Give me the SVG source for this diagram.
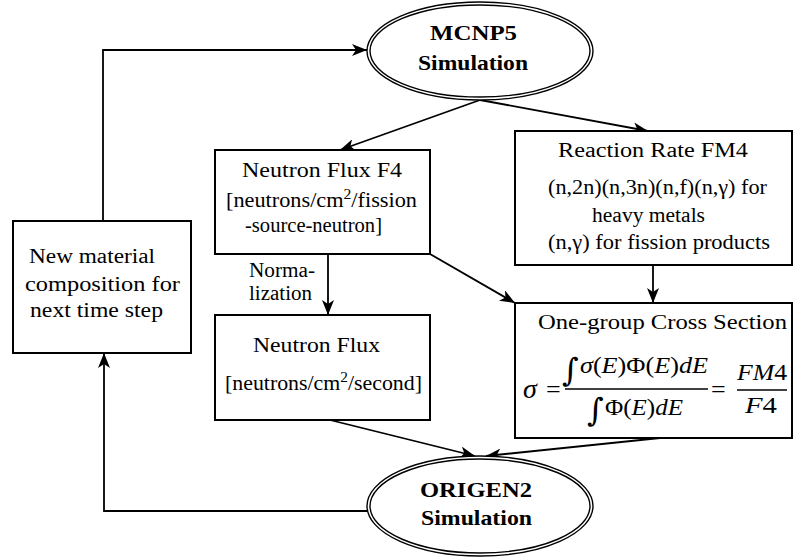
<svg xmlns="http://www.w3.org/2000/svg" width="794" height="560" viewBox="0 0 794 560">
<defs>
<marker id="arr" markerUnits="userSpaceOnUse" markerWidth="16" markerHeight="12" refX="15" refY="6" orient="auto">
<path d="M0,0 L15,6 L0,12 L4,6 Z" fill="#000"/>
</marker>
<style>
.box{fill:#fff;stroke:#000;stroke-width:2}
.ell{fill:none;stroke:#000;stroke-width:1.4}
.t{font-family:"Liberation Serif","Times New Roman",serif;font-size:20px;fill:#000}
.b{font-family:"Liberation Serif","Times New Roman",serif;font-size:22px;font-weight:bold;fill:#000}
.i{font-style:italic}
.int{font-family:"DejaVu Serif",serif;font-size:32px;fill:#000}
.c{fill:none;stroke:#000;stroke-width:1.8}
</style>
</defs>
<rect width="794" height="560" fill="#fff"/>

<g id="connectors">
<polyline class="c" points="103,221 103,50 367,50" marker-end="url(#arr)"/>
<line class="c" x1="480" y1="100" x2="340" y2="150" marker-end="url(#arr)"/>
<line class="c" x1="480" y1="100" x2="648" y2="131" marker-end="url(#arr)"/>
<line class="c" x1="328" y1="254" x2="328" y2="315" marker-end="url(#arr)"/>
<line class="c" x1="430" y1="254" x2="515" y2="303" marker-end="url(#arr)"/>
<line class="c" x1="653" y1="265" x2="653" y2="303" marker-end="url(#arr)"/>
<line class="c" x1="330" y1="420" x2="475" y2="456" marker-end="url(#arr)"/>
<line class="c" x1="660" y1="438" x2="486" y2="456" marker-end="url(#arr)"/>
<polyline class="c" points="368,511 104,511 104,353" marker-end="url(#arr)"/>
<text class="t" x="249" y="277" textLength="66" lengthAdjust="spacingAndGlyphs">Norma-</text>
<text class="t" x="249" y="300" textLength="63" lengthAdjust="spacingAndGlyphs">lization</text>
</g>

<g id="mcnp5">
<ellipse class="ell" cx="480" cy="51" rx="113" ry="49" style="fill:#fff"/>
<ellipse class="ell" cx="480" cy="51" rx="110" ry="46"/>
<text class="b" x="430" y="40" textLength="87" lengthAdjust="spacingAndGlyphs">MCNP5</text>
<text class="b" x="418" y="70" textLength="110" lengthAdjust="spacingAndGlyphs">Simulation</text>
</g>

<g id="origen2">
<ellipse class="ell" cx="480" cy="506" rx="113" ry="50" style="fill:#fff"/>
<ellipse class="ell" cx="480" cy="506" rx="110" ry="47"/>
<text class="b" x="420" y="497" textLength="112" lengthAdjust="spacingAndGlyphs">ORIGEN2</text>
<text class="b" x="421" y="525" textLength="111" lengthAdjust="spacingAndGlyphs">Simulation</text>
</g>

<g id="newmaterial">
<rect class="box" x="13" y="221" width="178" height="132"/>
<text class="t" x="29" y="263" textLength="126" lengthAdjust="spacingAndGlyphs">New material</text>
<text class="t" x="25" y="291" textLength="155" lengthAdjust="spacingAndGlyphs">composition for</text>
<text class="t" x="30" y="317" textLength="133" lengthAdjust="spacingAndGlyphs">next time step</text>
</g>

<g id="fluxf4">
<rect class="box" x="215" y="150" width="215" height="104"/>
<text class="t" x="242" y="177" textLength="160" lengthAdjust="spacingAndGlyphs">Neutron Flux F4</text>
<text class="t" x="226" y="207" textLength="191" lengthAdjust="spacingAndGlyphs">[neutrons/cm<tspan style="font-size:14px" dy="-8">2</tspan><tspan dy="8">/fission</tspan></text>
<text class="t" x="245" y="232" textLength="137" lengthAdjust="spacingAndGlyphs">-source-neutron]</text>
</g>

<g id="flux">
<rect class="box" x="215" y="315" width="215" height="105"/>
<text class="t" x="253" y="352" textLength="127" lengthAdjust="spacingAndGlyphs">Neutron Flux</text>
<text class="t" x="225" y="390" textLength="197" lengthAdjust="spacingAndGlyphs">[neutrons/cm<tspan style="font-size:14px" dy="-8">2</tspan><tspan dy="8">/second]</tspan></text>
</g>

<g id="reaction">
<rect class="box" x="515" y="131" width="277" height="134"/>
<text class="t" x="558" y="157" textLength="190" lengthAdjust="spacingAndGlyphs">Reaction Rate FM4</text>
<text class="t" x="548" y="194" textLength="219" lengthAdjust="spacingAndGlyphs">(n,2n)(n,3n)(n,f)(n,γ) for</text>
<text class="t" x="592" y="222" textLength="113" lengthAdjust="spacingAndGlyphs">heavy metals</text>
<text class="t" x="548" y="249" textLength="222" lengthAdjust="spacingAndGlyphs">(n,γ) for fission products</text>
</g>

<g id="crosssection">
<rect class="box" x="515" y="303" width="277" height="135"/>
<text class="t" x="538" y="329" textLength="249" lengthAdjust="spacingAndGlyphs">One-group Cross Section</text>
<text class="t i" x="523" y="398" style="font-size:28px">σ</text>
<text class="t" x="546" y="398" style="font-size:26px">=</text>
<text class="int" x="562" y="381">∫</text>
<text class="t" x="580" y="373" style="font-size:23px" textLength="128" lengthAdjust="spacingAndGlyphs"><tspan class="i">σ</tspan>(<tspan class="i">E</tspan>)Φ(<tspan class="i">E</tspan>)<tspan class="i">dE</tspan></text>
<line x1="565" y1="389" x2="708" y2="389" stroke="#000" stroke-width="1.3"/>
<text class="int" x="587" y="421">∫</text>
<text class="t" x="605" y="415" style="font-size:23px" textLength="78" lengthAdjust="spacingAndGlyphs">Φ(<tspan class="i">E</tspan>)<tspan class="i">dE</tspan></text>
<text class="t" x="711" y="398" style="font-size:26px">=</text>
<text class="t" x="737" y="380" style="font-size:23px" textLength="50" lengthAdjust="spacingAndGlyphs"><tspan class="i">FM</tspan>4</text>
<line x1="737" y1="390" x2="787" y2="390" stroke="#000" stroke-width="1.3"/>
<text class="t" x="745" y="413" style="font-size:23px" textLength="32" lengthAdjust="spacingAndGlyphs"><tspan class="i">F</tspan>4</text>
</g>
</svg>
